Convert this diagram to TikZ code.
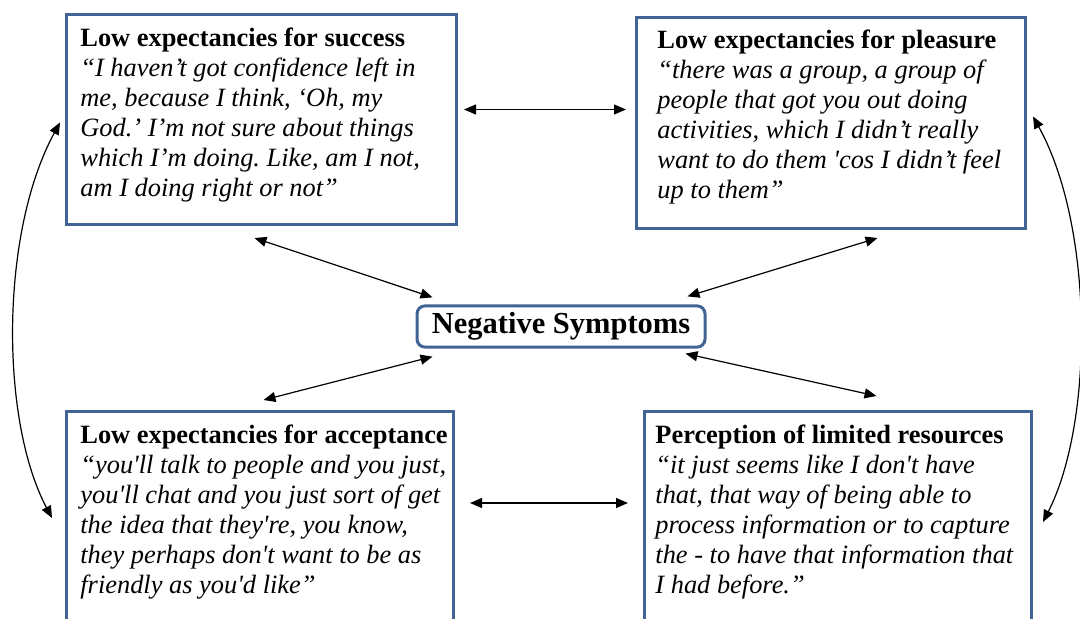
\documentclass[tikz,border=0pt]{standalone}
\usepackage{fontspec}
\setmainfont{Liberation Serif}[Ligatures=TeXOff]
\usetikzlibrary{arrows.meta}
\definecolor{boxblue}{RGB}{65,100,148}

\begin{document}
\begin{tikzpicture}[x=0.5pt, y=-0.5pt,
    box/.style={draw=boxblue, line width=1.5pt, fill=white, anchor=north west, inner sep=0pt},
    quote/.style={anchor=north west, inner sep=0pt, align=left, font=\fontsize{13.2}{15}\selectfont\frenchspacing},
    link/.style={{Triangle[length=6pt,width=5pt]}-{Triangle[length=6pt,width=5pt]}, line width=0.6pt}]
  \useasboundingbox (0,0) rectangle (1080,619);
  \clip (0,0) rectangle (1080,619);
  \fill[white] (0,0) rectangle (1080,619);

  % Boxes
  \node[box, minimum width=195pt, minimum height=105pt] (succ) at (65,13) {};
  \node[box, minimum width=194.5pt, minimum height=105.5pt] (pleas) at (635,16) {};
  \node[box, minimum width=193.5pt, minimum height=110pt] (accept) at (65,410) {};
  \node[box, minimum width=193.5pt, minimum height=110pt] (resour) at (643,410) {};

  % Centre
  \node[draw=boxblue, line width=1.5pt, rounded corners=4pt, minimum width=144pt, minimum height=19.5pt,
        font=\bfseries\fontsize{15.25}{18}\selectfont] (neg) at (561,326.5) {Negative Symptoms};

  % Quotes
  \node[quote] (succtext) at ([shift={(15,15)}]succ.north west)
    {\textbf{Low expectancies for success}\\
     \textit{“I haven’t got confidence left in}\\
     \textit{me, because I think, ‘Oh, my}\\
     \textit{God.’ I’m not sure about things}\\
     \textit{which I’m doing. Like, am I not,}\\
     \textit{am I doing right or not”}};
  \node[quote] (pleastext) at ([shift={(22,14)}]pleas.north west)
    {\textbf{Low expectancies for pleasure}\\
     \textit{“there was a group, a group of}\\
     \textit{people that got you out doing}\\
     \textit{activities, which I didn’t really}\\
     \textit{want to do them 'cos I didn’t feel}\\
     \textit{up to them”}};
  \node[quote] (accepttext) at ([shift={(15,15)}]accept.north west)
    {\textbf{Low expectancies for acceptance}\\
     \textit{“you'll talk to people and you just,}\\
     \textit{you'll chat and you just sort of get}\\
     \textit{the idea that they're, you know,}\\
     \textit{they perhaps don't want to be as}\\
     \textit{friendly as you'd like”}};
  \node[quote] (resourtext) at ([shift={(12,15)}]resour.north west)
    {\textbf{Perception of limited resources}\\
     \textit{“it just seems like I don't have}\\
     \textit{that, that way of being able to}\\
     \textit{process information or to capture}\\
     \textit{the - to have that information that}\\
     \textit{I had before.”}};

  % Arrows
  \draw[link] ([shift={(6,-10)}]succ.east) -- ([shift={(-9,-13.5)}]pleas.west);
  \draw[link] ([shift={(15,93)}]accept.north east) -- ([shift={(-15,93)}]resour.north west);
  \draw[link] ([shift={(-7,12)}]succ.south) -- ([shift={(17,-7)}]neg.north west);
  \draw[link] ([shift={(46.5,8)}]pleas.south) -- ([shift={(-19,-8)}]neg.north east);
  \draw[link] ([shift={(3.5,-10)}]accept.north) -- ([shift={(17,8)}]neg.south west);
  \draw[link] ([shift={(38.5,-14)}]resour.north) -- ([shift={(-21,5)}]neg.south east);
  \draw[link] ([shift={(-5,3)}]succ.west) .. controls +(-60,110) and +(-52,-98) .. ([shift={(-13,108)}]accept.north west);
  \draw[link] ([shift={(6,-6.5)}]pleas.east) .. controls +(61,110) and +(51,-100) .. ([shift={(10,112)}]resour.north east);
\end{tikzpicture}
\end{document}
